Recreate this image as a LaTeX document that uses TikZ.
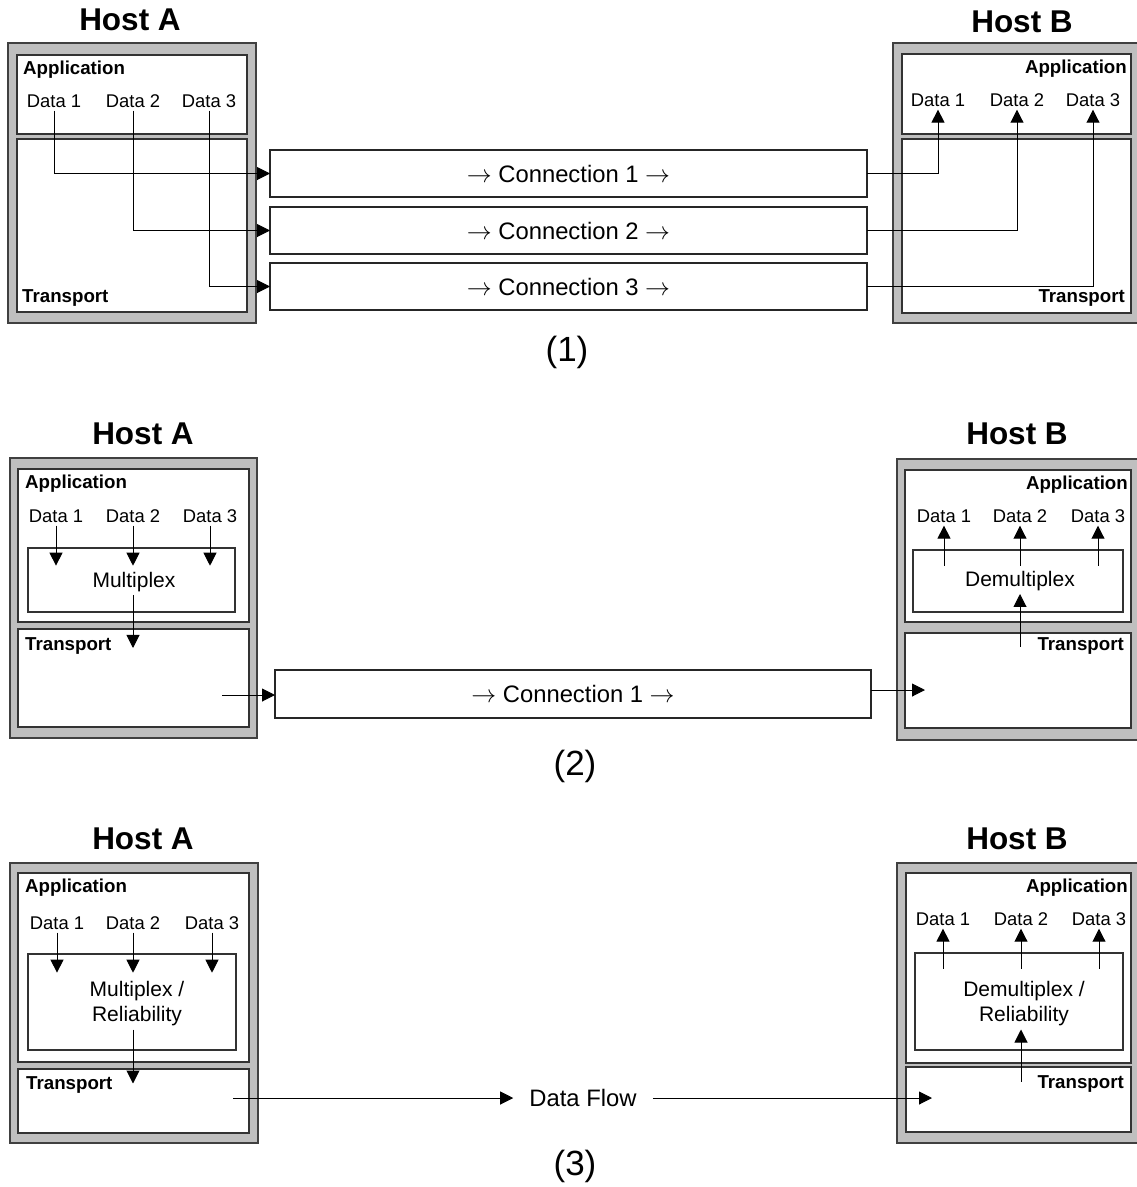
\documentclass[tikz,border=0pt]{standalone}
\usepackage{fontspec}
\setmainfont{Liberation Sans}
\usetikzlibrary{arrows.meta, positioning, calc}

\begin{document}
\begin{tikzpicture}[x=1pt, y=-1pt,
    hostbox/.style={draw=black!75, fill=black!25, line width=1.5pt, anchor=north west, inner sep=0pt, outer sep=0pt},
    layerbox/.style={draw=black!80, fill=white, line width=1.5pt, anchor=north west, inner sep=0pt, outer sep=0pt},
    connbox/.style={draw=black!85, fill=white, line width=1.2pt, anchor=north west, inner sep=0pt, outer sep=0pt, font=\fontsize{23.8}{28}\selectfont},
    title/.style={font=\fontsize{31.5}{38}\selectfont\bfseries},
    layer/.style={font=\fontsize{18.7}{22}\selectfont\bfseries, inner sep=0pt},
    data/.style={font=\fontsize{18.4}{22}\selectfont, inner sep=3pt},
    func/.style={font=\fontsize{21}{25}\selectfont, align=center, inner sep=3pt},
    flowtext/.style={font=\fontsize{23.8}{28}\selectfont, inner xsep=16pt},
    caption/.style={font=\fontsize{35}{42}\selectfont},
    arrow/.style={-{Triangle[length=13pt, width=13pt]}, line width=1pt}
]
    \useasboundingbox (0,0) rectangle (1137,1187);
    \clip (0,0) rectangle (1137,1187);

    % (1) one connection for each data stream
    \node[title] (titleA1) at (130,20) {Host A};
    \node[hostbox, minimum width=248pt, minimum height=280pt] (hostA1) at (8,43) {};
    \node[layerbox, minimum width=230pt, minimum height=79pt] (appA1) at (17,55) {};
    \node[layerbox, minimum width=230pt, minimum height=173pt] (tranA1) at (17,139) {};
    \node[layer, anchor=west] (appA1l) at (23,70) {Application};
    \node[layer, anchor=west] (tranA1l) at (22,298) {Transport};
    \node[data] (dA11) at (54,101) {Data 1};
    \node[data] (dA12) at (133,101) {Data 2};
    \node[data] (dA13) at (209,101) {Data 3};

    \node[connbox, minimum width=597pt, minimum height=47pt] (con11) at (270,150) {$\rightarrow$ Connection 1 $\rightarrow$};
    \node[connbox, minimum width=597pt, minimum height=47pt] (con12) at (270,207) {$\rightarrow$ Connection 2 $\rightarrow$};
    \node[connbox, minimum width=597pt, minimum height=47pt] (con13) at (270,263) {$\rightarrow$ Connection 3 $\rightarrow$};

    \node[title] (titleB1) at (1022,22) {Host B};
    \node[hostbox, minimum width=252pt, minimum height=280pt] (hostB1) at (893,43) {};
    \node[layerbox, minimum width=229pt, minimum height=80pt] (appB1) at (902,54) {};
    \node[layerbox, minimum width=229pt, minimum height=174pt] (tranB1) at (902,139) {};
    \node[layer, anchor=east] (appB1l) at (1127,69) {Application};
    \node[layer, anchor=east] (tranB1l) at (1125,298) {Transport};
    \node[data] (dB11) at (938,100) {Data 1};
    \node[data] (dB12) at (1017,100) {Data 2};
    \node[data] (dB13) at (1093,100) {Data 3};

    \draw[arrow] (dA11.south) |- (con11.west);
    \draw[arrow] (dA12.south) |- (con12.west);
    \draw[arrow] (dA13.south) |- (con13.west);
    \draw[arrow] (con11.east) -| (dB11.south);
    \draw[arrow] (con12.east) -| (dB12.south);
    \draw[arrow] (con13.east) -| (dB13.south);

    \node[caption] (cap1) at (567,352) {(1)};

    % (2) multiplexing over one connection
    \node[title] (titleA2) at (143,434) {Host A};
    \node[hostbox, minimum width=247pt, minimum height=280pt] (hostA2) at (10,458) {};
    \node[layerbox, minimum width=231pt, minimum height=153pt] (appA2) at (18,469) {};
    \node[layerbox, minimum width=207pt, minimum height=64pt] (muxA2) at (28,548) {};
    \node[layerbox, minimum width=231pt, minimum height=98pt] (tranA2) at (18,629) {};
    \node[layer, anchor=west] (appA2l) at (25,484) {Application};
    \node[layer, anchor=west] (tranA2l) at (25,646) {Transport};
    \node[data] (dA21) at (56,516) {Data 1};
    \node[data] (dA22) at (133,516) {Data 2};
    \node[data] (dA23) at (210,516) {Data 3};
    \node[func] (muxA2l) at (134,582) {Multiplex};

    \node[connbox, minimum width=596pt, minimum height=48pt] (con21) at (275,670) {$\rightarrow$ Connection 1 $\rightarrow$};

    \node[title] (titleB2) at (1017,434) {Host B};
    \node[hostbox, minimum width=248pt, minimum height=281pt] (hostB2) at (897,459) {};
    \node[layerbox, minimum width=226pt, minimum height=152pt] (appB2) at (905,470) {};
    \node[layerbox, minimum width=210pt, minimum height=62pt] (dmxB2) at (913,550) {};
    \node[layerbox, minimum width=226pt, minimum height=95pt] (tranB2) at (905,633) {};
    \node[layer, anchor=east] (appB2l) at (1128,485) {Application};
    \node[layer, anchor=east] (tranB2l) at (1124,646) {Transport};
    \node[data] (dB21) at (944,516) {Data 1};
    \node[data] (dB22) at (1020,516) {Data 2};
    \node[data] (dB23) at (1098,516) {Data 3};
    \node[func] (dmxB2l) at (1020,581) {Demultiplex};

    \draw[arrow] (dA21.south) -- ++(0,40);
    \draw[arrow] (dA22.south) -- ++(0,40);
    \draw[arrow] (dA23.south) -- ++(0,40);
    \draw[arrow] ([xshift=-1pt]muxA2l.south) -- ++(0,53);
    \coordinate (outA2) at (222,695);
    \draw[arrow] (outA2) -- (outA2 -| con21.west);
    \coordinate (inB2) at (925,690);
    \draw[arrow] (con21.east |- inB2) -- (inB2);
    \draw[arrow] ($(dB21.south)+(0,40)$) -- (dB21.south);
    \draw[arrow] ($(dB22.south)+(0,40)$) -- (dB22.south);
    \draw[arrow] ($(dB23.south)+(0,40)$) -- (dB23.south);
    \draw[arrow] ($(dmxB2l.south)+(0,53)$) -- (dmxB2l.south);

    \node[caption] (cap2) at (575,766) {(2)};

    % (3) multiplexing and reliability above transport
    \node[title] (titleA3) at (143,839) {Host A};
    \node[hostbox, minimum width=248pt, minimum height=280pt] (hostA3) at (10,863) {};
    \node[layerbox, minimum width=231pt, minimum height=189pt] (appA3) at (18,873) {};
    \node[layerbox, minimum width=208pt, minimum height=96pt] (muxA3) at (28,954) {};
    \node[layerbox, minimum width=231pt, minimum height=64pt] (tranA3) at (18,1069) {};
    \node[layer, anchor=west] (appA3l) at (25,888) {Application};
    \node[layer, anchor=west] (tranA3l) at (26,1085) {Transport};
    \node[data] (dA31) at (57,923) {Data 1};
    \node[data] (dA32) at (133,923) {Data 2};
    \node[data] (dA33) at (212,923) {Data 3};
    \node[func] (muxA3l) at (137,1004) {Multiplex /\\Reliability};

    \node[flowtext] (flow3) at (583,1098) {Data Flow};

    \node[title] (titleB3) at (1017,839) {Host B};
    \node[hostbox, minimum width=248pt, minimum height=280pt] (hostB3) at (897,863) {};
    \node[layerbox, minimum width=225pt, minimum height=190pt] (appB3) at (906,873) {};
    \node[layerbox, minimum width=208pt, minimum height=97pt] (dmxB3) at (915,953) {};
    \node[layerbox, minimum width=225pt, minimum height=65pt] (tranB3) at (906,1067) {};
    \node[layer, anchor=east] (appB3l) at (1128,888) {Application};
    \node[layer, anchor=east] (tranB3l) at (1124,1084) {Transport};
    \node[data] (dB31) at (943,919) {Data 1};
    \node[data] (dB32) at (1021,919) {Data 2};
    \node[data] (dB33) at (1099,919) {Data 3};
    \node[func] (dmxB3l) at (1024,1004) {Demultiplex /\\Reliability};

    \draw[arrow] (dA31.south) -- ++(0,40);
    \draw[arrow] (dA32.south) -- ++(0,40);
    \draw[arrow] (dA33.south) -- ++(0,40);
    \draw[arrow] (muxA3l.south -| dA32.south) -- ++(0,54);
    \coordinate (outA3) at (233,1098);
    \draw[arrow] (outA3) -- (flow3.west);
    \coordinate (inB3) at (932,1098);
    \draw[arrow] (flow3.east) -- (inB3);
    \draw[arrow] ($(dB31.south)+(0,40)$) -- (dB31.south);
    \draw[arrow] ($(dB32.south)+(0,40)$) -- (dB32.south);
    \draw[arrow] ($(dB33.south)+(0,40)$) -- (dB33.south);
    \draw[arrow] ($(dmxB3l.south -| dB32.south)+(0,52)$) -- (dmxB3l.south -| dB32.south);

    \node[caption] (cap3) at (575,1166) {(3)};
\end{tikzpicture}
\end{document}
